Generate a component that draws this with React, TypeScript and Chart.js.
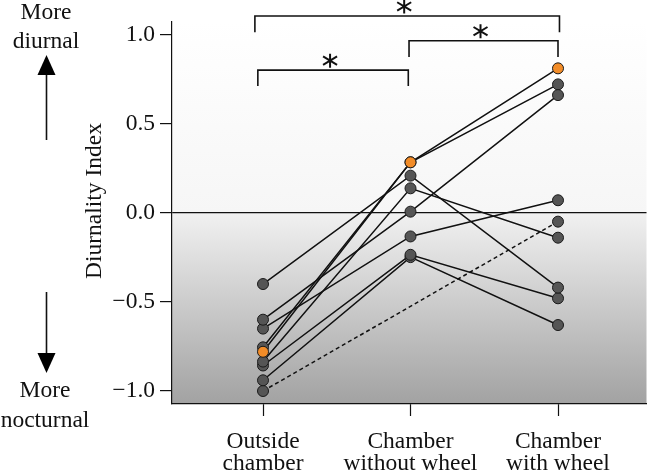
import React, { useEffect, useRef } from "react";
import { Chart, registerables } from "chart.js";

Chart.register(...registerables);

// ---- data ----
const categories: string[][] = [
  ["Outside", "chamber"],
  ["Chamber", "without wheel"],
  ["Chamber", "with wheel"],
];
const outsideChamber = [-0.40, -0.60, -0.65, -0.755, -0.78, -0.835, -0.857, -0.94, -1.0];
const chamberWithoutWheel: (number | null)[] = [0.208, 0.006, -0.133, 0.283, 0.283, 0.137, -0.236, -0.249, null];
const chamberWithWheel = [-0.42, 0.66, 0.07, 0.72, 0.81, -0.14, -0.48, -0.63, -0.05];
const highlighted = [false, false, false, false, true, false, false, false, false];
const dashedSeries = [false, false, false, false, false, false, false, false, true];
const yTicks = [-1.0, -0.5, 0.0, 0.5, 1.0];
// significance brackets
const bracketFrom = [-0.055, 0.99, -0.035];
const bracketTo = [2.01, 2.0, 0.985];
const bracketBar = [1.104, 0.965, 0.80];
const bracketLeg = [1.013, 0.874, 0.711];

const FONT = "'Liberation Serif', 'Times New Roman', serif";
const FS = 23.5;
const ORANGE = "#f28c28";
const GRAY = "#555555";

const decor = {
  id: "decor",
  beforeDraw(chart: any) {
    const { ctx, chartArea } = chart;
    const y = chart.scales.y;
    const zero = y.getPixelForValue(0);
    const h = chartArea.bottom - chartArea.top;
    const f = (zero - chartArea.top) / h;
    const g = ctx.createLinearGradient(0, chartArea.top, 0, chartArea.bottom);
    g.addColorStop(0, "#ffffff");
    g.addColorStop(f, "#f6f6f6");
    g.addColorStop(Math.min(1, f + 0.0001), "#f1f1f1");
    g.addColorStop(1, "#a2a2a2");
    ctx.save();
    ctx.fillStyle = g;
    ctx.fillRect(chartArea.left, chartArea.top, chartArea.right - chartArea.left, h);
    ctx.restore();
  },
  afterDraw(chart: any) {
    const { ctx } = chart;
    const xs = chart.scales.x;
    const ys = chart.scales.y;
    ctx.save();
    ctx.strokeStyle = "#111";
    for (let i = 0; i < bracketFrom.length; i++) {
      const x1 = xs.getPixelForValue(bracketFrom[i]);
      const x2 = xs.getPixelForValue(bracketTo[i]);
      const yb = ys.getPixelForValue(bracketBar[i]);
      const yl = ys.getPixelForValue(bracketLeg[i]);
      ctx.lineWidth = 1.6;
      ctx.beginPath();
      ctx.moveTo(x1, yl);
      ctx.lineTo(x1, yb);
      ctx.lineTo(x2, yb);
      ctx.lineTo(x2, yl);
      ctx.stroke();
      // asterisk
      const cx = (x1 + x2) / 2 - 3;
      const cy = yb - 9.5;
      ctx.lineWidth = 2;
      ctx.beginPath();
      ctx.moveTo(cx, cy - 7);
      ctx.lineTo(cx, cy + 7);
      ctx.moveTo(cx - 7, cy - 4.2);
      ctx.lineTo(cx + 7, cy + 4.2);
      ctx.moveTo(cx - 7, cy + 4.2);
      ctx.lineTo(cx + 7, cy - 4.2);
      ctx.stroke();
    }
    // y title
    ctx.fillStyle = "#111";
    ctx.font = `${FS}px ${FONT}`;
    ctx.textAlign = "center";
    ctx.textBaseline = "middle";
    ctx.save();
    ctx.translate(95, (ys.top + ys.bottom) / 2 - 12);
    ctx.rotate(-Math.PI / 2);
    ctx.fillText("Diurnality Index", 0, 0);
    ctx.restore();
    // side notes
    ctx.textBaseline = "alphabetic";
    ctx.fillText("More", 46, 19);
    ctx.fillText("diurnal", 46, 48);
    ctx.fillText("More", 45, 397);
    ctx.fillText("nocturnal", 45, 427);
    // arrows
    const ax = 46.5;
    ctx.lineWidth = 1.6;
    ctx.beginPath();
    ctx.moveTo(ax, 140);
    ctx.lineTo(ax, 72);
    ctx.moveTo(ax, 292);
    ctx.lineTo(ax, 356);
    ctx.stroke();
    ctx.fillStyle = "#000";
    ctx.beginPath();
    ctx.moveTo(ax, 55);
    ctx.lineTo(ax - 9, 75);
    ctx.lineTo(ax + 9, 75);
    ctx.closePath();
    ctx.fill();
    ctx.beginPath();
    ctx.moveTo(ax, 373);
    ctx.lineTo(ax - 9, 353);
    ctx.lineTo(ax + 9, 353);
    ctx.closePath();
    ctx.fill();
    ctx.restore();
  },
};

export default function App() {
  const ref = useRef<HTMLCanvasElement | null>(null);
  useEffect(() => {
    document.body.style.margin = "0";
    const columns = [outsideChamber, chamberWithoutWheel, chamberWithWheel];
    const series = outsideChamber.map((_, i) =>
      columns
        .map((col, c) => ({ x: c, y: col[i] }))
        .filter((p) => p.y !== null && p.y !== undefined)
    );
    const lineSets = series.map((data, i) => ({
      data,
      showLine: true,
      borderColor: "#111",
      borderWidth: 1.5,
      borderDash: dashedSeries[i] ? [4, 3] : [],
      pointRadius: 0,
      order: 100 + i,
    }));
    const pointSets = series.map((data, i) => ({
      data,
      showLine: false,
      pointRadius: 5.5,
      pointBorderWidth: 1,
      pointBorderColor: "#1a1a1a",
      pointBackgroundColor: highlighted[i] ? ORANGE : GRAY,
      order: highlighted[i] ? 0 : 10 + i,
    }));
    const chart = new Chart(ref.current!, {
      type: "scatter",
      data: { datasets: [...lineSets, ...pointSets] as any },
      plugins: [decor],
      options: {
        animation: false,
        responsive: false,
        events: [],
        layout: { padding: { top: 22, right: 6, left: 0, bottom: 0 } },
        plugins: { legend: { display: false }, tooltip: { enabled: false } },
        scales: {
          x: {
            type: "linear",
            min: -0.617,
            max: 2.6,
            afterBuildTicks: (s: any) => {
              s.ticks = categories.map((_, i) => ({ value: i }));
            },
            afterFit: (s: any) => {
              s.height = 70;
            },
            ticks: {
              callback: (v: any) => categories[v as number] ?? "",
              color: "#111",
              font: { family: FONT, size: FS, lineHeight: 0.92 },
              padding: 15,
              maxRotation: 0,
              autoSkip: false,
            },
            grid: { drawOnChartArea: false, drawTicks: true, tickLength: 12, color: "#111", tickWidth: 1.2 },
            border: { display: true, color: "#111", width: 1.2 },
          },
          y: {
            type: "linear",
            min: -1.073,
            max: 1.07,
            afterBuildTicks: (s: any) => {
              s.ticks = yTicks.map((v) => ({ value: v }));
            },
            afterFit: (s: any) => {
              s.width = 172;
            },
            ticks: {
              callback: (v: any) => {
                const n = Number(v);
                return (n < 0 ? "\u2212" : "") + Math.abs(n).toFixed(1);
              },
              color: "#111",
              font: { family: FONT, size: FS },
              padding: 5,
            },
            grid: {
              drawOnChartArea: true,
              drawTicks: true,
              tickLength: 12,
              color: (c: any) => (c.tick && c.tick.value === 0 ? "#111" : "rgba(0,0,0,0)"),
              tickColor: "#111",
              lineWidth: 1.2,
            },
            border: { display: true, color: "#111", width: 1.2 },
          },
        },
      } as any,
    });
    return () => chart.destroy();
  }, []);
  return (
    <div style={{ width: 653, height: 474 }}>
      <canvas ref={ref} width={653} height={474} style={{ display: "block" }} />
    </div>
  );
}
